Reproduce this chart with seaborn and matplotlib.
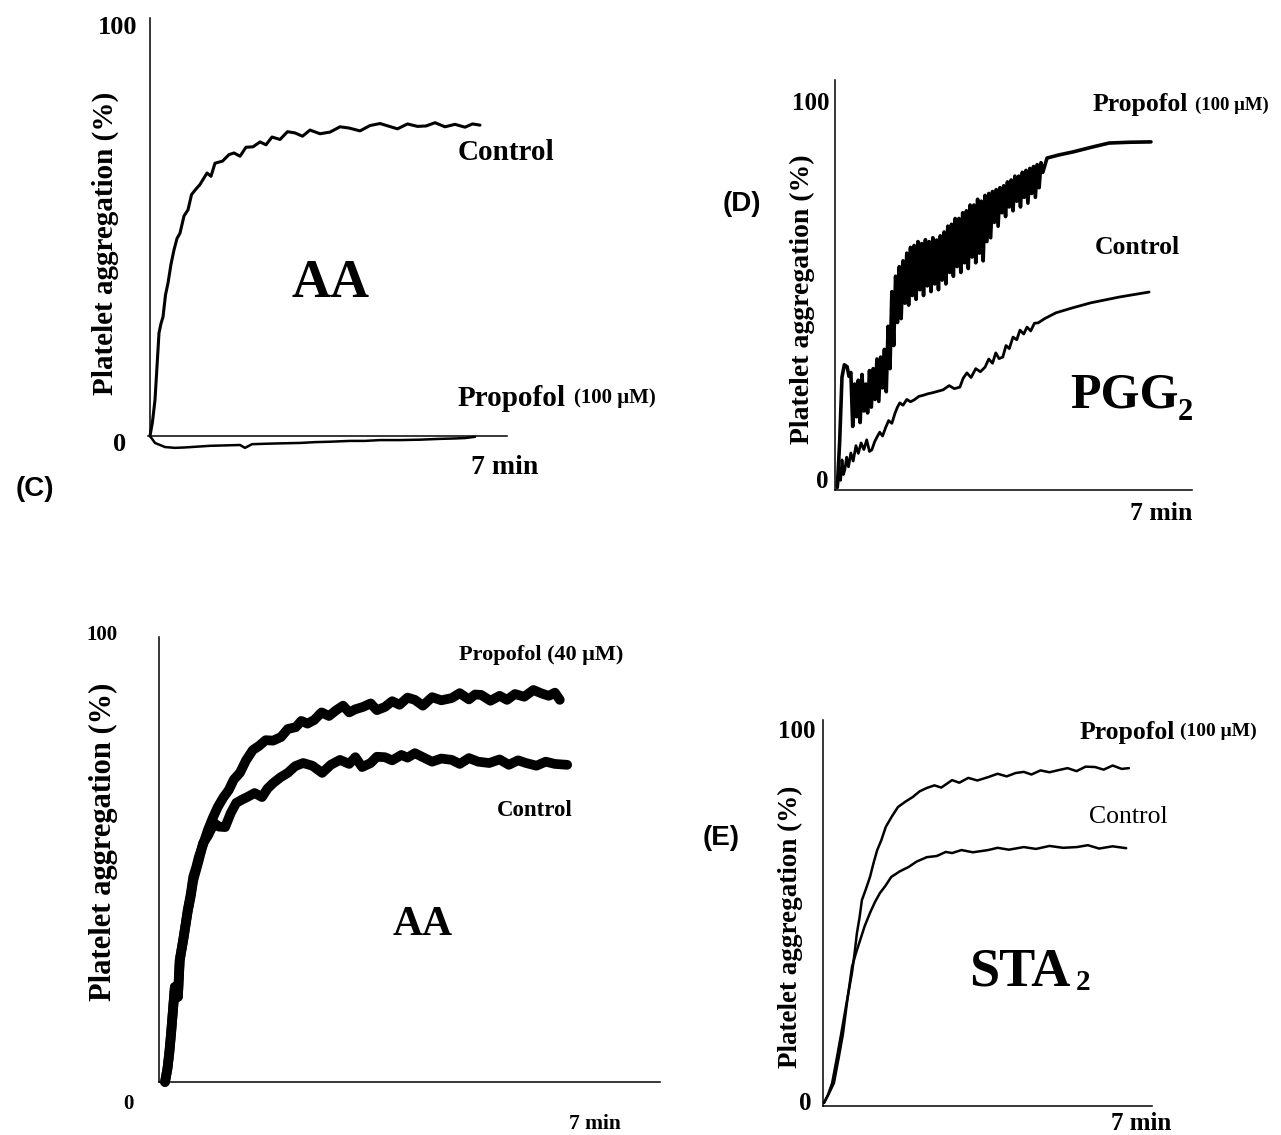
import matplotlib
matplotlib.use("Agg")
import seaborn as sns
import matplotlib.pyplot as plt

W, H = 1281, 1135

# (C) AA, propofol 100 uM -- time in min, aggregation in %
c_ctrl_t = [0, 0.05, 0.1, 0.14, 0.18, 0.22, 0.26, 0.31, 0.36, 0.42,
            0.48, 0.54, 0.6, 0.68, 0.76, 0.83, 0.9, 1.0, 1.14, 1.22,
            1.3, 1.45, 1.58, 1.68, 1.8, 1.92, 2.06, 2.2, 2.32, 2.44,
            2.6, 2.75, 2.9, 3.05, 3.2, 3.4, 3.6, 3.8, 3.98, 4.2,
            4.4, 4.6, 4.76, 4.95, 5.15, 5.35, 5.52, 5.7, 5.9, 6.1,
            6.3, 6.45, 6.6]
c_ctrl_v = [0, 3.5, 8.8, 17, 25.2, 27.5, 29.1, 34.5, 37.4, 42,
            45.5, 48.3, 49.6, 53.8, 55.3, 59, 60.1, 61.5, 64.3, 63.5,
            66.7, 67.2, 68.8, 69.2, 68.4, 70.6, 70.7, 71.9, 71.2, 73.1,
            72.5, 74.4, 74.1, 73.3, 74.8, 73.9, 74.3, 75.6, 75.3, 74.6,
            75.9, 76.4, 75.8, 75.1, 76.3, 75.7, 75.8, 76.6, 75.6, 76.2,
            75.5, 76.3, 76.0]
c_prop_t = [0, 0.1, 0.3, 0.5, 0.7, 0.95, 1.2, 1.5, 1.8, 1.9, 2.04, 2.3, 2.6,
            3.0, 3.3, 3.6, 4.0, 4.3, 4.6, 5.0, 5.4, 5.8, 6.1, 6.3, 6.5]
c_prop_v = [0, -1.7, -2.7, -2.9, -2.8, -2.6, -2.4, -2.3, -2.2, -2.9, -2.0, -1.9, -1.8,
            -1.7, -1.5, -1.4, -1.2, -1.2, -1.0, -1.0, -0.9, -0.7, -0.6, -0.5, -0.2]

# (D) PGG2
d_prop_t = [0.05, 0.10, 0.15, 0.20, 0.26, 0.30,
            0.34, 0.38, 0.42, 0.46, 0.50, 0.54, 0.58, 0.62, 0.66, 0.70,
            0.74, 0.78, 0.82, 0.86, 0.90, 0.94, 0.98, 1.02, 1.06, 1.10,
            1.14, 1.18, 1.22, 1.26, 1.30, 1.34, 1.38, 1.42, 1.46, 1.50,
            1.54, 1.58, 1.62, 1.66, 1.70, 1.74, 1.78, 1.82, 1.86, 1.90,
            1.94, 1.98, 2.02, 2.06, 2.10, 2.14, 2.18, 2.22, 2.26, 2.30,
            2.34, 2.38, 2.42, 2.46, 2.50, 2.54, 2.58, 2.62, 2.66, 2.70,
            2.74, 2.78, 2.82, 2.86, 2.90, 2.94, 2.98, 3.02, 3.06, 3.10,
            3.14, 3.18, 3.22, 3.26, 3.30, 3.34, 3.38, 3.42, 3.46, 3.50,
            3.54, 3.58, 3.62, 3.66, 3.70, 3.74, 3.78, 3.82, 3.86, 3.90,
            3.94, 3.98, 4.02, 4.06, 4.10, 4.14, 4.18, 4.22, 4.26, 4.30,
            4.34, 4.38, 4.42, 4.46,
            4.55, 4.8, 5.11, 5.5, 5.88, 6.3, 6.78]
d_prop_v = [0.3, 12, 28.8, 32, 31.5, 29,
            30, 16, 27, 18.5, 28, 17, 29.5, 20, 27, 19.5,
            30.5, 21, 31, 23, 33.5, 22.5, 34, 26, 36, 25,
            42, 31, 51, 37, 55, 43, 57.5, 44, 59, 48,
            61, 47.5, 62.5, 50, 63, 49, 64, 51.5, 63.5, 50,
            64.5, 52.5, 64, 51, 65, 53, 64.4, 51.5, 65.5, 54,
            66.5, 53, 68, 56, 68.5, 55, 70, 57.5, 70, 56,
            71.5, 58.5, 72, 57, 73.5, 60, 73.5, 58.5, 75, 61,
            74.5, 59, 76, 64, 76.5, 65, 77, 69, 77.5, 68,
            78, 71.5, 78.5, 70.5, 79.5, 73, 80, 72, 81, 74.5,
            81, 73, 82, 75.5, 82.5, 74, 83, 76.5, 83.5, 75.5,
            84, 78, 84.5, 82,
            85.7, 86.5, 87.3, 88.5, 89.6, 89.8, 89.9]
d_ctrl_t = [0.05, 0.09, 0.12, 0.15, 0.18, 0.21, 0.25, 0.29, 0.34, 0.39,
            0.45, 0.50, 0.56, 0.62, 0.68, 0.74, 0.79, 0.85, 0.90, 0.96,
            1.02, 1.09, 1.15, 1.22, 1.29, 1.34, 1.39, 1.46, 1.54, 1.62,
            1.70, 1.80, 1.90, 2.00, 2.08, 2.20, 2.32, 2.45, 2.56, 2.68,
            2.75, 2.83, 2.92, 3.02, 3.12, 3.22, 3.30, 3.38, 3.45, 3.52,
            3.60, 3.67, 3.74, 3.82, 3.90, 3.97, 4.05, 4.12, 4.20, 4.28,
            4.36, 4.5, 4.74, 5.1, 5.49, 6.1, 6.74]
d_ctrl_v = [0, 5, 2, 7.3, 3.5, 4.7, 8, 5.5, 9.1, 7,
            11, 9, 11.7, 10, 12.5, 9.5, 9.9, 12, 13.2, 14.5,
            13.5, 15.8, 17.5, 16.8, 19.5, 21, 22.1, 21.5, 23, 22.4,
            22.9, 23.8, 24.1, 24.5, 24.7, 25.1, 25.5, 26.6, 25.8, 26.2,
            28.5, 29.9, 28.7, 31, 30.2, 31.4, 33.5, 32.4, 35.1, 33.6,
            34, 37, 36.2, 39.2, 38.5, 41, 40, 41.8, 40.8, 42.8,
            42.9, 44, 45.5, 46.8, 48.1, 49.6, 50.9]

# bottom-left: AA, propofol 40 uM
a_prop_t = [0, 0.04, 0.07, 0.10, 0.13, 0.16, 0.19, 0.21, 0.24, 0.30,
            0.37, 0.42, 0.46, 0.51, 0.55, 0.62, 0.70, 0.78, 0.86, 0.95,
            1.04, 1.12, 1.22, 1.32, 1.43, 1.53, 1.64, 1.76, 1.89, 2.0,
            2.13, 2.22, 2.32, 2.43, 2.55, 2.67, 2.79, 2.9, 3.0, 3.1,
            3.22, 3.35, 3.45, 3.58, 3.7, 3.82, 3.95, 4.07, 4.2, 4.35,
            4.5, 4.67, 4.8, 4.95, 5.05, 5.15, 5.3, 5.45, 5.57, 5.7,
            5.85, 6.0, 6.12, 6.25, 6.35, 6.43]
a_prop_v = [0, 3, 6.5, 11, 16.1, 21.2, 20, 19, 27.2, 32,
            38.4, 42, 45.8, 48, 50.2, 53, 56.3, 59, 61.4, 63.5,
            65.2, 67.5, 69, 71.8, 74.1, 75, 76.3, 76.2, 77, 78.8,
            79.2, 80.6, 80, 80.8, 82.5, 81.7, 83, 84, 82.5, 83.2,
            83.7, 84.5, 83, 83.7, 85, 84.2, 85.8, 85.3, 84, 85.9,
            85.2, 85.7, 86.8, 85.4, 86.5, 86.4, 85.1, 86.2, 85.3, 86.6,
            86, 87.5, 86.8, 86.2, 86.9, 85.3]
a_ctrl_t = [0, 0.04, 0.07, 0.10, 0.13, 0.16, 0.19, 0.21, 0.24, 0.30,
            0.37, 0.42, 0.46, 0.51, 0.55, 0.62, 0.70, 0.8, 0.88, 0.98,
            1.07, 1.16, 1.25, 1.34, 1.46, 1.58, 1.67, 1.76, 1.88, 2.0,
            2.12, 2.25, 2.4, 2.56, 2.7, 2.85, 3.0, 3.1, 3.21, 3.35,
            3.45, 3.58, 3.7, 3.85, 3.95, 4.07, 4.2, 4.35, 4.5, 4.67,
            4.8, 4.95, 5.1, 5.28, 5.45, 5.6, 5.75, 5.88, 6.05, 6.2,
            6.35, 6.55]
a_ctrl_v = [0, 3, 6.5, 11, 16.1, 21.2, 20, 19, 27.2, 32,
            38, 41.5, 45, 47.5, 49.5, 53.3, 55, 57.8, 57, 56.9,
            60, 62.3, 63, 63.6, 64.5, 63.6, 65.5, 66.7, 68, 69,
            70.5, 71.2, 70.6, 69, 70.8, 71.9, 71, 72.5, 70.3, 71.2,
            72.6, 72.5, 71.8, 73, 72.4, 73.4, 72.5, 71.5, 72.2, 71.9,
            71, 72.3, 71.5, 71.2, 72, 70.8, 71.8, 71.2, 70.6, 71.5,
            71, 70.8]

# (E) STA2
e_prop_t = [0, 0.09, 0.18, 0.28, 0.38, 0.5, 0.62, 0.68, 0.73, 0.79,
            0.84, 0.93, 1.02, 1.1, 1.18, 1.27, 1.37, 1.5, 1.64, 1.8,
            1.97, 2.12, 2.28, 2.45, 2.6, 2.84, 3.0, 3.2, 3.4, 3.64,
            3.85, 4.05, 4.25, 4.43, 4.6, 4.8, 5.0, 5.21, 5.4, 5.6,
            5.8, 6.01, 6.2, 6.4, 6.6, 6.76]
e_prop_v = [0.3, 2.5, 5.6, 12, 18.7, 27, 35, 40.5, 45.7, 50,
            54.5, 57.5, 60.7, 64.5, 67.9, 70.5, 74.1, 76.8, 79.4, 80.8,
            82.1, 83.6, 84.5, 85.2, 84.6, 86.6, 85.9, 87.2, 86.5, 87.4,
            88.3, 87.6, 88.5, 88.8, 88.1, 89.2, 88.7, 89.3, 89.8, 89.0,
            90.2, 90.1, 89.4, 90.5, 89.6, 89.8]
e_ctrl_t = [0, 0.11, 0.22, 0.32, 0.42, 0.52, 0.62, 0.7, 0.78, 0.9,
            1.02, 1.13, 1.24, 1.36, 1.49, 1.68, 1.88, 2.05, 2.28, 2.5,
            2.7, 2.84, 3.05, 3.3, 3.64, 3.85, 4.1, 4.43, 4.7, 5.0,
            5.3, 5.61, 5.85, 6.1, 6.4, 6.7]
e_ctrl_v = [0.3, 2.8, 5.6, 12, 18.7, 28, 36.6, 40, 43, 47.5,
            51.1, 54, 56.4, 58.3, 60.7, 62.2, 63.4, 64.8, 66, 66.3,
            67.4, 67.1, 67.9, 67.3, 67.9, 68.5, 68, 68.7, 68.2, 69,
            68.5, 68.7, 69.2, 68.3, 68.9, 68.4]

YLABEL = "Platelet aggregation (%)"

sns.set_theme(style="white")
plt.rcParams["font.family"] = ["Liberation Serif", "DejaVu Serif"]

fig = plt.figure(figsize=(W / 100, H / 100), dpi=100)


def fig_xy(px, py):
    return px / W, 1 - py / H


def make_panel(origin, scale, box, vline, hline):
    # origin: pixel of (0 min, 0 %), scale: px per min / px per %
    x0, y0 = origin
    kx, ky = scale
    left, top, right, bottom = box
    fx, fy = fig_xy(left, bottom)
    ax = fig.add_axes([fx, fy, (right - left) / W, (bottom - top) / H])
    ax.set_xlim((left - x0) / kx, (right - x0) / kx)
    ax.set_ylim((y0 - bottom) / ky, (y0 - top) / ky)
    ax.patch.set_visible(False)
    ax.set_xticks([])
    ax.set_yticks([])
    sns.despine(ax=ax)
    vx, vtop, vbot = vline
    hy, hl, hr = hline
    ax.spines["left"].set_position(("data", (vx - x0) / kx))
    ax.spines["left"].set_bounds((y0 - vbot) / ky, (y0 - vtop) / ky)
    ax.spines["bottom"].set_position(("data", (y0 - hy) / ky))
    ax.spines["bottom"].set_bounds((hl - x0) / kx, (hr - x0) / kx)
    for s in ("left", "bottom"):
        ax.spines[s].set_color("black")
        ax.spines[s].set_linewidth(1.1)
    return ax


def trace(ax, t, v, lw):
    sns.lineplot(x=t, y=v, ax=ax, color="black", linewidth=lw, estimator=None,
                 sort=False, solid_joinstyle="round", solid_capstyle="round")


def put(px, py, s, size, ha="center", va="center", weight="bold", rotation=0, family=None):
    fx, fy = fig_xy(px, py)
    kw = {"family": family} if family else {}
    fig.text(fx, fy, s, fontsize=size, ha=ha, va=va, fontweight=weight,
             rotation=rotation, color="black", **kw)


SANS = ["Liberation Sans", "DejaVu Sans"]

# ---- (C)
ax_c = make_panel((150, 436), (50, 4.09), (140, 10, 520, 460), (150, 18, 436), (436, 148, 507))
trace(ax_c, c_ctrl_t, c_ctrl_v, 2.2)
trace(ax_c, c_prop_t, c_prop_v, 1.8)
put(137, 27, "100", 19, ha="right")
put(126, 445, "0", 19, ha="right")
put(505, 467, "7 min", 20)
put(458, 153, "Control", 21, ha="left")
put(458, 398, "Propofol", 21, ha="left")
put(574, 398, "(100 \u03bcM)", 15, ha="left")
put(331, 297, "AA", 39, va="baseline")
put(105, 243, YLABEL, 21, rotation=90)
put(35, 489, "(C)", 20, family=SANS)

# ---- (D)
ax_d = make_panel((835, 488), (46.6, 3.85), (825, 70, 1200, 500), (835, 80, 490), (490, 835, 1192))
trace(ax_d, d_ctrl_t, d_ctrl_v, 2.0)
trace(ax_d, d_prop_t, d_prop_v, 2.6)
put(829, 103, "100", 18, ha="right")
put(828, 482, "0", 18, ha="right")
put(1161, 513, "7 min", 18.5)
put(1093, 105, "Propofol", 18.5, ha="left")
put(1195, 105, "(100 \u03bcM)", 13.5, ha="left")
put(1095, 247, "Control", 18.5, ha="left")
put(1070, 408, "PGG", 36, ha="left", va="baseline")
put(1178, 420, "2", 22, ha="left", va="baseline")
put(802, 299, YLABEL, 20, rotation=90)
put(742, 204, "(D)", 20, family=SANS)

# ---- bottom-left, propofol 40 uM
ax_a = make_panel((165, 1082), (61.4, 4.48), (150, 625, 670, 1095), (159, 637, 1082), (1082, 159, 660))
trace(ax_a, a_ctrl_t, a_ctrl_v, 7)
trace(ax_a, a_prop_t, a_prop_v, 7)
put(118, 635, "100", 15, ha="right")
put(128, 1104, "0", 15)
put(595, 1124, "7 min", 15.5)
put(459, 655, "Propofol (40 \u03bcM)", 16, ha="left")
put(535, 811, "Control", 16.5)
put(423, 935, "AA", 30, va="baseline")
put(103, 842, YLABEL, 22, rotation=90)

# ---- (E)
ax_e = make_panel((824, 1104), (45.1, 3.74), (815, 710, 1160, 1115), (823, 720, 1106), (1106, 823, 1152))
trace(ax_e, e_ctrl_t, e_ctrl_v, 1.8)
trace(ax_e, e_prop_t, e_prop_v, 1.8)
put(815, 732, "100", 18, ha="right")
put(805, 1103, "0", 18)
put(1141, 1123, "7 min", 18)
put(1080, 733, "Propofol", 18.5, ha="left")
put(1180, 731, "(100 \u03bcM)", 14, ha="left")
put(1089, 817, "Control", 18.5, ha="left", weight="normal")
put(969, 985, "STA", 39, ha="left", va="baseline")
put(1076, 990, "2", 21, ha="left", va="baseline")
put(790, 927, YLABEL, 19.5, rotation=90)
put(721, 838, "(E)", 20, family=SANS)

fig.savefig("out.png", dpi=100, facecolor="white")
